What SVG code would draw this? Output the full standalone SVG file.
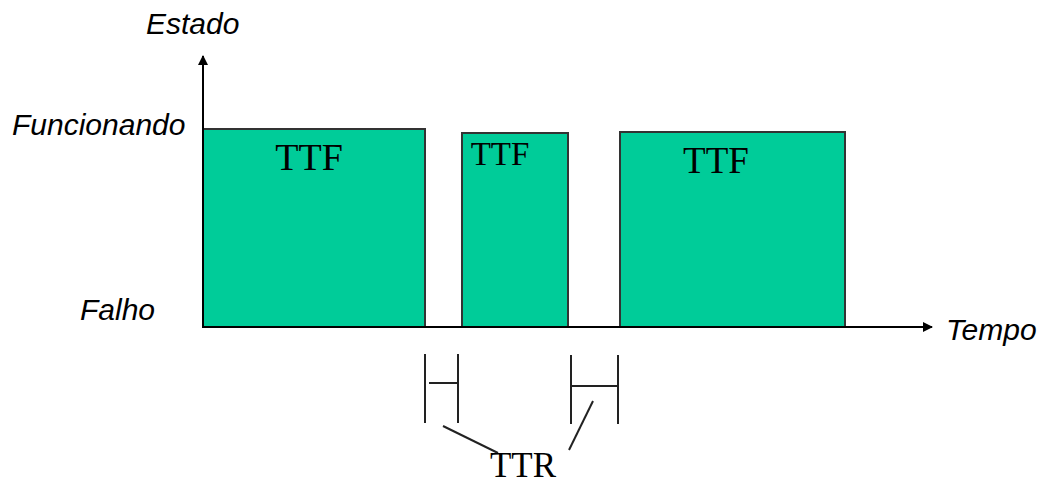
<svg xmlns="http://www.w3.org/2000/svg" width="1044" height="484" viewBox="0 0 1044 484">
  <style>
    .axis-label { font-family: "Liberation Sans", Arial, sans-serif; font-style: italic; font-size: 30px; fill: #000; }
    .ttf { font-family: "Liberation Serif", "Times New Roman", serif; fill: #000; }
    .bar { fill: #00cc99; stroke: #333; stroke-width: 2; }
    .line { stroke: #000; stroke-width: 2; fill: none; }
    .thin { stroke: #222; stroke-width: 2; fill: none; }
  </style>
  <defs>
    <marker id="arrow" viewBox="0 0 10 10" refX="9" refY="5" markerWidth="10" markerHeight="10" markerUnits="userSpaceOnUse" orient="auto">
      <path d="M0,0 L10,5 L0,10 z" fill="#000"/>
    </marker>
  </defs>
  <rect width="1044" height="484" fill="#fff"/>

  <!-- up and down periods -->
  <g id="ttf1">
    <rect class="bar" x="203" y="129" width="222" height="198"/>
    <text class="ttf" x="309" y="170" font-size="38" text-anchor="middle">TTF</text>
  </g>
  <g id="ttf2">
    <rect class="bar" x="462" y="133" width="106" height="194"/>
    <text class="ttf" x="500" y="165" font-size="33" text-anchor="middle">TTF</text>
  </g>
  <g id="ttf3">
    <rect class="bar" x="620" y="132" width="225" height="195"/>
    <text class="ttf" x="716" y="173" font-size="37" text-anchor="middle">TTF</text>
  </g>

  <!-- axes -->
  <g id="connectors">
    <line class="line" x1="203" y1="328" x2="203" y2="56" marker-end="url(#arrow)"/>
    <line class="line" x1="203" y1="327" x2="932" y2="327" marker-end="url(#arrow)"/>

    <!-- repair interval brackets -->
    <line class="thin" x1="425" y1="354" x2="425" y2="423"/>
    <line class="thin" x1="458" y1="354" x2="458" y2="423"/>
    <line class="thin" x1="429" y1="383" x2="458" y2="383"/>
    <line class="thin" x1="571" y1="355" x2="571" y2="424"/>
    <line class="thin" x1="618" y1="355" x2="618" y2="424"/>
    <line class="thin" x1="571" y1="386" x2="618" y2="386"/>

    <!-- leaders to label -->
    <line class="thin" x1="443" y1="426" x2="498" y2="453"/>
    <line class="thin" x1="593" y1="401" x2="569" y2="450"/>
  </g>

  <g id="labels">
    <text class="axis-label" x="146" y="34">Estado</text>
    <text class="axis-label" x="12" y="135">Funcionando</text>
    <text class="axis-label" x="80" y="320">Falho</text>
    <text class="axis-label" x="946" y="340">Tempo</text>
    <text class="ttf" x="523" y="477" font-size="35" text-anchor="middle">TTR</text>
  </g>
</svg>
